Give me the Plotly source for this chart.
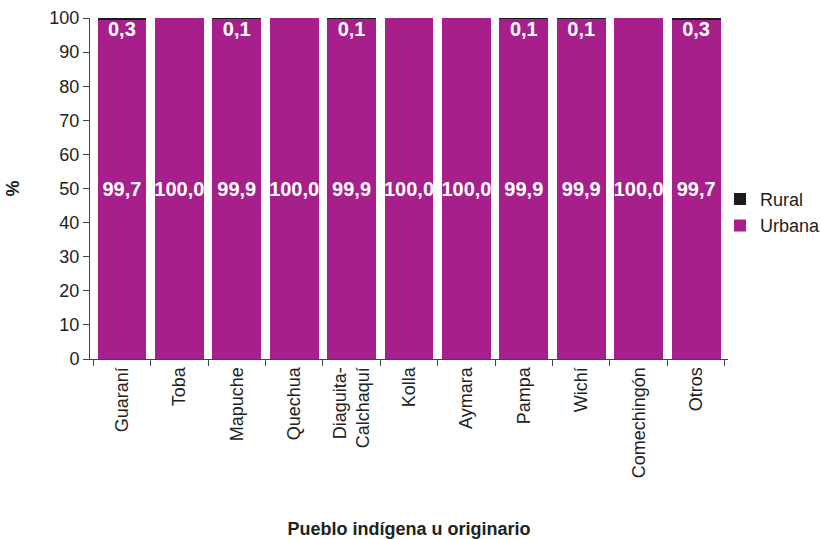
import plotly.graph_objects as go

categories = ["Guaraní", "Toba", "Mapuche", "Quechua", "Diaguita-<br>Calchaquí", "Kolla",
              "Aymara", "Pampa", "Wichí", "Comechingón", "Otros"]
urbana = [99.7, 100.0, 99.9, 100.0, 99.9, 100.0, 100.0, 99.9, 99.9, 100.0, 99.7]
rural = [0.3, 0.0, 0.1, 0.0, 0.1, 0.0, 0.0, 0.1, 0.1, 0.0, 0.3]

MAGENTA = "#A71F8B"
BLACK = "#1b1b1b"
FONT = "Liberation Sans, Arial, sans-serif"

def fmt(v):
    return f"{v:.1f}".replace(".", ",")

fig = go.Figure()
fig.add_trace(go.Bar(
    x=categories, y=urbana, name="Urbana", marker=dict(color=MAGENTA, line=dict(width=0)),
    text=[fmt(v) for v in urbana], textposition="inside", insidetextanchor="middle",
    textfont=dict(color="white", size=20, family=FONT, weight="bold"),
    textangle=0, constraintext="none",
))
fig.add_trace(go.Bar(
    x=categories, y=rural, name="Rural", marker=dict(color=BLACK, line=dict(width=0)),
))
# rural value labels, shown inside the top of each bar
rx = [c for c, r in zip(categories, rural) if r > 0]
ry = [u + r - 3.8 for u, r in zip(urbana, rural) if r > 0]
rt = [fmt(r) for r in rural if r > 0]
fig.add_trace(go.Scatter(
    x=rx, y=ry, text=rt, mode="text", showlegend=False, hoverinfo="skip",
    textfont=dict(color="white", size=20, family=FONT, weight="bold"),
))

fig.update_layout(
    barmode="stack",
    bargap=0.15,
    width=821, height=539,
    margin=dict(l=90, r=93, t=18, b=180, autoexpand=False),
    paper_bgcolor="white", plot_bgcolor="white",
    font=dict(family=FONT, size=18, color="#222222"),
    legend=dict(traceorder="reversed", xref="container", yref="container",
                x=0.877, y=0.606, xanchor="left", yanchor="middle",
                bgcolor="rgba(0,0,0,0)",
                font=dict(size=18, family=FONT), itemwidth=30),
    showlegend=True,
)
fig.update_xaxes(
    type="category", tickangle=-90, tickson="boundaries", ticks="outside", ticklen=6,
    tickcolor="#444", showline=True, linecolor="#444", linewidth=1,
    tickfont=dict(size=18, family=FONT), automargin=False,
    title=dict(text="<b>Pueblo indígena u originario</b>", font=dict(size=18, family=FONT), standoff=49),
    showgrid=False,
)
fig.update_yaxes(
    range=[0, 100], dtick=10, ticks="outside", ticklen=6, tickcolor="#444",
    showline=True, linecolor="#444", linewidth=1, showgrid=False, zeroline=False,
    tickfont=dict(size=18, family=FONT), automargin=False,
    title=dict(text="<b>%</b>", font=dict(size=18, family=FONT), standoff=25),
)
fig.write_html("out.html", config={"displayModeBar": False},
               post_script="document.body.style.margin='0';document.body.style.overflow='hidden';")
